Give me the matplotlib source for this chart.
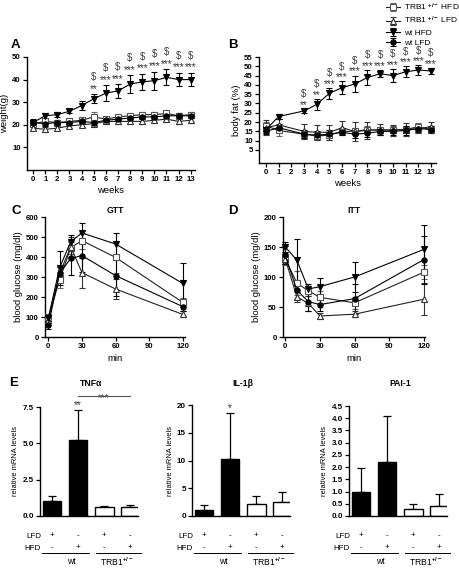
import matplotlib
matplotlib.use('Agg')
import numpy as np
import matplotlib.pyplot as plt
from matplotlib.transforms import blended_transform_factory

plt.rcParams['font.family'] = ['Liberation Sans', 'DejaVu Sans']
plt.rcParams['font.weight'] = 'bold'
plt.rcParams['mathtext.fontset'] = 'custom'
plt.rcParams['mathtext.rm'] = 'Liberation Sans'
plt.rcParams['mathtext.it'] = 'Liberation Sans:italic'
plt.rcParams['mathtext.bf'] = 'Liberation Sans:bold'

W, H = 459, 568

# ---- series / legend ----
series = ['trb1_hfd', 'trb1_lfd', 'wt_hfd', 'wt_lfd']
legend_labels = [r'TRB1 $^{+/-}$ HFD', r'TRB1 $^{+/-}$ LFD', 'wt HFD', 'wt LFD']

# ---- A: body weight (g) ----
weeks_a = list(range(14))
weight = {
    'trb1_hfd': [20.5, 21.5, 21, 21.5, 22, 23.5, 22.5, 23.5, 24, 24.5, 24.5, 25, 24, 24.5],
    'trb1_lfd': [18.5, 18, 18.5, 19.5, 20, 20.5, 21.5, 21.5, 21.5, 21.5, 22, 22.5, 21.5, 22],
    'wt_hfd': [21, 24, 24.5, 26, 28.5, 31.5, 34, 35, 38, 39, 39.5, 41, 40, 40],
    'wt_lfd': [21, 20.5, 21, 21, 21.5, 21, 22, 22.5, 23, 23.5, 23.5, 24, 24, 24],
}
weight_err = {
    'trb1_hfd': [1, 1, 1, 1, 1, 2, 1, 1, 1, 1, 1, 1, 1, 1],
    'trb1_lfd': [1, 1, 1, 1, 1, 1, 1, 1, 1, 1, 1, 1, 1, 1],
    'wt_hfd': [1.5, 1, 1, 1, 2, 2, 3.5, 3, 4, 3.5, 4, 3.5, 3, 3],
    'wt_lfd': [1, 1, 1, 1, 1, 1, 1, 1, 1, 1, 1, 1, 1, 1],
}
sig_weeks_a = [5, 6, 7, 8, 9, 10, 11, 12, 13]
sig_stars_a = ['**', '***', '***', '***', '***', '***', '***', '***', '***']

# ---- B: body fat (%) ----
weeks_b = [0, 1, 3, 4, 5, 6, 7, 8, 9, 10, 11, 12, 13]
fat = {
    'trb1_hfd': [18, 15.5, 13.5, 12.5, 13, 15, 15, 16, 15.5, 16, 16, 17.5, 16],
    'trb1_lfd': [17, 18.5, 15, 14.5, 14.5, 17, 15, 15.5, 16, 15.5, 16, 16.5, 17.5],
    'wt_hfd': [16, 23, 26, 29.5, 35.5, 38.5, 40.5, 44, 46, 45, 47, 48, 47.5],
    'wt_lfd': [15, 17, 13.5, 13, 13.5, 14.5, 13.5, 14, 15, 15, 15.5, 16.5, 16],
}
fat_err = {
    'trb1_hfd': [2, 3, 2, 2, 2.5, 2, 2, 2, 2, 2, 2, 2, 2],
    'trb1_lfd': [4, 3, 4, 4, 4, 3.5, 5, 4.5, 3, 3, 3.5, 2.5, 2.5],
    'wt_hfd': [2, 1.5, 1, 3, 3, 3.5, 4.5, 4, 2, 3.5, 3, 2.5, 1.5],
    'wt_lfd': [1.5, 2, 2, 2, 2, 1.5, 2, 2, 2, 2, 2.5, 2, 2],
}
sig_weeks_b = [3, 4, 5, 6, 7, 8, 9, 10, 11, 12, 13]
sig_stars_b = ['**', '**', '***', '***', '***', '***', '***', '***', '***', '***', '***']

# ---- C: GTT, D: ITT ----
minutes = [0, 10, 20, 30, 60, 120]
gtt = {
    'trb1_hfd': [100, 285, 447, 482, 398, 173],
    'trb1_lfd': [85, 318, 450, 322, 240, 113],
    'wt_hfd': [95, 346, 477, 520, 465, 268],
    'wt_lfd': [60, 318, 393, 407, 307, 152],
}
gtt_err = {
    'trb1_hfd': [10, 40, 30, 40, 80, 20],
    'trb1_lfd': [15, 30, 50, 75, 50, 15],
    'wt_hfd': [15, 85, 35, 50, 55, 100],
    'wt_lfd': [20, 30, 85, 80, 100, 20],
}
itt = {
    'trb1_hfd': [130, 90, 77, 66, 57, 108],
    'trb1_lfd': [130, 67, 56, 35, 38, 63],
    'wt_hfd': [150, 128, 80, 84, 100, 146],
    'wt_lfd': [136, 78, 59, 54, 64, 129],
}
itt_err = {
    'trb1_hfd': [10, 20, 8, 10, 10, 12],
    'trb1_lfd': [8, 8, 12, 5, 5, 27],
    'wt_hfd': [8, 35, 8, 14, 25, 40],
    'wt_lfd': [15, 15, 15, 10, 25, 40],
}

# ---- E: relative mRNA levels ----
genes = ['TNFα', 'IL-1β', 'PAI-1']
lfd_marks = ['+', '-', '+', '-']
hfd_marks = ['-', '+', '-', '+']
bar_fill = ['black', 'black', 'white', 'white']
mrna = {
    'TNFα': [1.0, 5.2, 0.6, 0.63],
    'IL-1β': [1.0, 10.3, 2.1, 2.6],
    'PAI-1': [1.0, 2.2, 0.28, 0.4],
}
mrna_err = {
    'TNFα': [0.35, 2.1, 0.12, 0.15],
    'IL-1β': [0.9, 8.3, 1.5, 1.7],
    'PAI-1': [0.95, 1.9, 0.22, 0.52],
}
mrna_star = {'TNFα': '**', 'IL-1β': '*', 'PAI-1': ''}

style = {
    'trb1_hfd': dict(marker='s', mfc='white', mec='#555555', color='#222222', ecolor='#666666'),
    'trb1_lfd': dict(marker='^', mfc='white', mec='#333333', color='#222222', ecolor='#333333'),
    'wt_hfd': dict(marker='v', mfc='black', mec='black', color='black', ecolor='black'),
    'wt_lfd': dict(marker='o', mfc='black', mec='black', color='black', ecolor='black'),
}

fig = plt.figure(figsize=(W / 100, H / 100), dpi=100)


def px_axes(l, t, r, b):
    return fig.add_axes([l / W, 1 - b / H, (r - l) / W, (b - t) / H])


def base_style(ax, size=5.6):
    for s in ['top', 'right']:
        ax.spines[s].set_visible(False)
    for s in ['left', 'bottom']:
        ax.spines[s].set_linewidth(1.0)
    ax.tick_params(direction='out', length=3, width=0.9, labelsize=size, pad=1.5)


def draw_lines(ax, xs, data, err):
    handles = []
    for key in series:
        st = style[key]
        h = ax.errorbar(xs, data[key], yerr=err[key], marker=st['marker'], ms=3.8,
                        mfc=st['mfc'], mec=st['mec'], mew=0.8, color=st['color'],
                        ecolor=st['ecolor'], lw=0.8, elinewidth=0.8, capsize=2.3,
                        capthick=0.8, clip_on=False, zorder=3)
        for art in h.get_children():
            art.set_clip_on(False)
        handles.append(h)
    return handles


def sig_marks(ax, xs, weeks, stars, data, err, star_off, dollar_off):
    for w, s in zip(weeks, stars):
        i = xs.index(w)
        top = data['wt_hfd'][i] + err['wt_hfd'][i]
        ax.text(w, top + star_off, s, fontsize=7.2, ha='center', va='bottom',
                color='#333333', fontweight='normal')
        ax.text(w, top + dollar_off, '$', fontsize=7, ha='center', va='bottom',
                color='#444444', fontweight='normal')


def panel_letter(x, y, s):
    fig.text(x / W, 1 - y / H, s, fontsize=9.5, fontweight='bold', va='center', ha='left')


# ---- A ----
axA = px_axes(27, 57, 195, 170)
base_style(axA)
draw_lines(axA, weeks_a, weight, weight_err)
axA.set_xlim(-0.5, 13.35)
axA.set_ylim(0, 50)
axA.set_xticks(weeks_a)
axA.set_yticks([10, 20, 30, 40, 50])
axA.set_xlabel('weeks', fontsize=6.8, labelpad=2)
axA.set_ylabel('weight(g)', fontsize=6.8, labelpad=2)
sig_marks(axA, weeks_a, sig_weeks_a, sig_stars_a, weight, weight_err, 0.2, 5.4)
panel_letter(11, 45, 'A')

# ---- B ----
axB = px_axes(259, 57, 436, 163)
base_style(axB)
hB = draw_lines(axB, weeks_b, fat, fat_err)
axB.set_xlim(-0.55, 13.4)
axB.set_ylim(-2, 55)
axB.set_xticks(list(range(14)))
axB.set_yticks(list(range(5, 56, 5)))
axB.set_xlabel('weeks', fontsize=6.8, labelpad=2)
axB.set_ylabel('body fat (%)', fontsize=6.8, labelpad=2)
sig_marks(axB, weeks_b, sig_weeks_b, sig_stars_b, fat, fat_err, -0.5, 5.2)
panel_letter(228, 45, 'B')

fig.legend(hB, legend_labels, loc='upper left', bbox_to_anchor=(385 / W, 1.0),
           frameon=False, prop=dict(size=6, weight='normal'), handlelength=1.7,
           handletextpad=0.4, labelspacing=0.3, borderaxespad=0.1, borderpad=0.05)

# ---- C ----
axC = px_axes(45, 217, 185, 337)
base_style(axC)
draw_lines(axC, minutes, gtt, gtt_err)
axC.set_xlim(-3, 122)
axC.set_ylim(0, 600)
axC.set_xticks([0, 30, 60, 90, 120])
axC.set_yticks(list(range(0, 601, 100)))
axC.set_xlabel('min', fontsize=6.8, labelpad=3)
axC.set_ylabel('blood glucose (mg/dl)', fontsize=6.8, labelpad=2)
axC.set_title('GTT', fontsize=6.2, fontweight='bold', pad=3)
panel_letter(11, 211, 'C')

# ---- D ----
axD = px_axes(283, 217, 425, 337)
base_style(axD)
draw_lines(axD, minutes, itt, itt_err)
axD.set_xlim(-2, 121)
axD.set_ylim(0, 200)
axD.set_xticks([0, 30, 60, 90, 120])
axD.set_yticks([0, 50, 100, 150, 200])
axD.set_xlabel('min', fontsize=6.8, labelpad=3)
axD.set_ylabel('blood glucose (mg/dl)', fontsize=6.8, labelpad=2)
axD.set_title('ITT', fontsize=6.2, fontweight='bold', pad=3)
panel_letter(228, 211, 'D')

# ---- E ----
e_boxes = {'TNFα': (40, 407, 138, 516), 'IL-1β': (192, 405, 290, 516), 'PAI-1': (349, 406, 447, 516)}
e_ylim = {'TNFα': 7.5, 'IL-1β': 20, 'PAI-1': 4.5}
e_ticks = {'TNFα': [0, 2.5, 5.0, 7.5], 'IL-1β': [0, 5, 10, 15, 20],
           'PAI-1': list(np.arange(0, 4.51, 0.5))}
e_fmt = {'TNFα': '{:.1f}', 'IL-1β': '{:.0f}', 'PAI-1': '{:.1f}'}
pos = np.arange(4)
for g in genes:
    ax = px_axes(*e_boxes[g])
    base_style(ax, size=5.8)
    vals = np.array(mrna[g])
    errs = np.array(mrna_err[g])
    ax.bar(pos, vals, width=0.72, color=bar_fill, edgecolor='black', linewidth=1.0, zorder=2)
    ax.errorbar(pos, vals, yerr=[np.zeros(4), errs], fmt='none', ecolor='black',
                elinewidth=0.9, capsize=3, capthick=0.9, zorder=1, clip_on=False)
    ax.set_xlim(-0.46, 3.3)
    ax.set_ylim(0, e_ylim[g])
    ax.set_yticks(e_ticks[g])
    ax.set_yticklabels([e_fmt[g].format(t) for t in e_ticks[g]])
    ax.set_xticks([])
    ax.set_ylabel('relative mRNA levels', fontsize=5.4, fontweight='normal', labelpad=2)
    tr = blended_transform_factory(ax.transData, fig.transFigure)
    ax.text(1.5, 1 - 384 / H, g, transform=tr, fontsize=6.2, fontweight='bold', ha='center', va='center')
    if mrna_star[g]:
        ax.text(1, vals[1] + errs[1], mrna_star[g], fontsize=7.2, ha='center', va='bottom',
                fontweight='normal', color='#333333')
    ax.text(-0.42, 1 - 536 / H, 'LFD', transform=tr, fontsize=5.8, fontweight='normal', ha='right', va='center')
    ax.text(-0.42, 1 - 548 / H, 'HFD', transform=tr, fontsize=5.8, fontweight='normal', ha='right', va='center')
    for p, a, b in zip(pos, lfd_marks, hfd_marks):
        ax.text(p, 1 - 536 / H, a, transform=tr, fontsize=5.8, fontweight='normal', ha='center', va='center')
        ax.text(p, 1 - 548 / H, b, transform=tr, fontsize=5.8, fontweight='normal', ha='center', va='center')
    ax.plot([-0.4, 1.42], [1 - 553 / H] * 2, transform=tr, color='black', lw=0.7, clip_on=False)
    ax.plot([1.68, 3.42], [1 - 553 / H] * 2, transform=tr, color='black', lw=0.7, clip_on=False)
    ax.text(0.75, 1 - 562 / H, 'wt', transform=tr, fontsize=6.2, fontweight='normal', ha='center', va='center')
    ax.text(2.5, 1 - 562 / H, r'TRB1$^{+/-}$', transform=tr, fontsize=6.2, fontweight='normal',
            ha='center', va='center')
    if g == 'TNFα':
        ax.plot([1, 3], [1 - 396 / H] * 2, transform=tr, color='#555555', lw=0.8, clip_on=False)
        ax.text(2, 1 - 401 / H, '***', transform=tr, fontsize=7.2, fontweight='normal',
                ha='center', va='baseline', color='#555555')
panel_letter(9, 383, 'E')

fig.savefig('out.png', dpi=100)
